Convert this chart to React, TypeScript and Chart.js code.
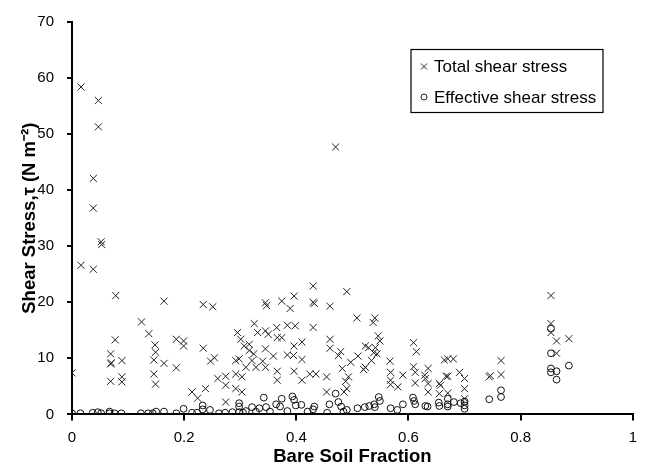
import React, { useEffect, useRef } from 'react';
import { Chart, registerables } from 'chart.js';

Chart.register(...registerables);

const FONT = "'Liberation Sans', Arial, sans-serif";

// Total shear stress (crosses)
const totalX = [
  0.000, 0.016, 0.016, 0.038, 0.038, 0.038, 0.047, 0.047, 0.052, 0.053,
  0.069, 0.069, 0.070, 0.069, 0.077, 0.078, 0.089, 0.089, 0.089, 0.124,
  0.137, 0.146, 0.146, 0.148, 0.149, 0.149, 0.164, 0.164, 0.186, 0.186,
  0.199, 0.199, 0.214, 0.224, 0.234, 0.234, 0.238, 0.247, 0.251, 0.254,
  0.260, 0.274, 0.274, 0.274, 0.292, 0.292, 0.292, 0.295, 0.298, 0.301,
  0.303, 0.303, 0.307, 0.310, 0.316, 0.316, 0.321, 0.324, 0.325, 0.331,
  0.328, 0.340, 0.345, 0.347, 0.345, 0.345, 0.345, 0.350, 0.359, 0.365,
  0.366, 0.366, 0.366, 0.374, 0.374, 0.384, 0.384, 0.389, 0.395, 0.396,
  0.396, 0.396, 0.398, 0.410, 0.410, 0.410, 0.424, 0.430, 0.430, 0.432,
  0.430, 0.435, 0.454, 0.454, 0.460, 0.460, 0.460, 0.470, 0.475, 0.479,
  0.482, 0.485, 0.488, 0.490, 0.490, 0.493, 0.497, 0.508, 0.510, 0.520,
  0.523, 0.523, 0.529, 0.534, 0.537, 0.538, 0.540, 0.541, 0.544, 0.546,
  0.549, 0.567, 0.568, 0.568, 0.568, 0.581, 0.590, 0.609, 0.609, 0.612,
  0.612, 0.614, 0.629, 0.630, 0.635, 0.635, 0.635, 0.655, 0.655, 0.657,
  0.664, 0.667, 0.670, 0.670, 0.670, 0.680, 0.691, 0.700, 0.700, 0.700,
  0.744, 0.746, 0.765, 0.765, 0.854, 0.854, 0.854, 0.864, 0.864, 0.886,
];
const totalY = [
  7.4, 58.4, 26.6, 42.1, 36.8, 25.9, 56.0, 51.3, 30.8, 30.3,
  10.8, 9.0, 9.2, 5.9, 13.3, 21.2, 9.6, 6.7, 5.8, 16.5,
  14.4, 9.7, 7.2, 12.4, 11.1, 5.4, 20.2, 9.1, 13.4, 8.3,
  13.1, 12.2, 4.0, 2.9, 19.6, 11.8, 4.6, 9.5, 19.2, 10.1,
  6.4, 6.8, 5.2, 2.2, 9.6, 7.2, 4.6, 14.6, 9.9, 13.4,
  6.7, 4.0, 12.2, 8.4, 12.5, 11.4, 9.6, 10.8, 16.2, 14.6,
  8.4, 9.5, 19.9, 19.4, 14.9, 11.7, 8.4, 14.3, 10.4, 15.5,
  13.7, 7.7, 6.1, 20.2, 13.7, 15.9, 10.6, 18.9, 10.5, 21.1,
  12.2, 7.7, 15.8, 12.9, 9.8, 6.1, 7.2, 22.9, 20.0, 19.8,
  15.5, 7.2, 6.7, 4.0, 19.3, 13.4, 11.8, 47.7, 10.5, 11.2,
  8.2, 4.0, 5.9, 21.9, 4.6, 6.7, 9.3, 17.2, 10.4, 8.0,
  12.2, 8.4, 11.9, 9.6, 16.4, 11.0, 17.2, 11.9, 10.8, 14.0,
  13.1, 9.5, 7.5, 6.1, 5.3, 4.9, 7.0, 12.8, 8.5, 7.5,
  5.6, 11.2, 7.0, 6.4, 8.2, 5.5, 4.0, 5.5, 3.7, 5.2,
  9.7, 6.8, 9.9, 6.8, 3.8, 9.9, 7.5, 6.4, 4.6, 2.8,
  6.7, 6.9, 9.6, 7.1, 21.2, 16.2, 14.6, 13.1, 10.9, 13.5,
];

// Effective shear stress (circles)
const effX = [
  0.000, 0.015, 0.037, 0.046, 0.052, 0.067, 0.067, 0.076, 0.088, 0.123,
  0.136, 0.144, 0.150, 0.164, 0.186, 0.199, 0.214, 0.223, 0.233, 0.233,
  0.246, 0.262, 0.273, 0.286, 0.298, 0.298, 0.298, 0.305, 0.310, 0.321,
  0.328, 0.334, 0.342, 0.346, 0.353, 0.364, 0.371, 0.374, 0.384, 0.393,
  0.396, 0.399, 0.409, 0.420, 0.430, 0.432, 0.455, 0.459, 0.470, 0.475,
  0.480, 0.484, 0.490, 0.509, 0.522, 0.530, 0.539, 0.540, 0.547, 0.549,
  0.568, 0.580, 0.590, 0.608, 0.610, 0.612, 0.630, 0.634, 0.654, 0.655,
  0.670, 0.670, 0.670, 0.681, 0.693, 0.700, 0.700, 0.700, 0.744, 0.765,
  0.765, 0.854, 0.854, 0.854, 0.854, 0.864, 0.864, 0.886,
];
const effY = [
  0.2, 0.2, 0.3, 0.4, 0.2, 0.5, 0.2, 0.2, 0.2, 0.2,
  0.2, 0.2, 0.5, 0.5, 0.2, 1.0, 0.3, 0.3, 1.6, 0.9,
  0.8, 0.2, 0.3, 0.4, 2.0, 1.4, 0.4, 0.3, 0.6, 1.3,
  0.5, 1.1, 3.0, 1.3, 0.5, 1.8, 1.4, 2.8, 0.6, 3.2,
  2.6, 1.6, 1.7, 0.5, 0.9, 1.4, 0.3, 1.8, 3.7, 2.2,
  1.4, 0.5, 0.8, 1.1, 1.3, 1.5, 1.8, 1.3, 3.1, 2.4,
  1.1, 0.8, 1.8, 3.0, 2.4, 1.8, 1.5, 1.4, 2.1, 1.5,
  2.8, 1.8, 1.4, 2.2, 2.0, 2.3, 1.6, 1.0, 2.7, 4.3,
  3.1, 15.3, 10.9, 8.2, 7.5, 7.7, 6.2, 8.7,
];

const seriesLabels = ['Total shear stress', 'Effective shear stress'];
const xAxisTitle = 'Bare Soil Fraction';
const yAxisTitle = 'Shear Stress,\u03C4 (N m\u207B\u00B2)';
const xRange = [0, 1];
const yRange = [0, 70];
const xStep = 0.2;
const yStep = 10;

const boxLegend = {
  id: 'boxLegend',
  afterDraw(chart: any) {
    const { ctx, chartArea } = chart;
    const left = chartArea.left + 339;
    const top = chartArea.top + 27.5;
    const w = 192;
    const h = 63;
    ctx.save();
    ctx.strokeStyle = '#000';
    ctx.lineWidth = 1.2;
    ctx.fillStyle = '#fff';
    ctx.fillRect(left, top, w, h);
    ctx.strokeRect(left, top, w, h);
    const rows = [top + 17, top + 47.5];
    chart.data.datasets.forEach((ds: any, i: number) => {
      const cy = rows[i];
      const cx = left + 13;
      ctx.strokeStyle = '#222';
      ctx.lineWidth = 1;
      ctx.beginPath();
      if (i === 0) {
        ctx.moveTo(cx - 3, cy - 3);
        ctx.lineTo(cx + 3, cy + 3);
        ctx.moveTo(cx + 3, cy - 3);
        ctx.lineTo(cx - 3, cy + 3);
      } else {
        ctx.arc(cx, cy, 3, 0, Math.PI * 2);
      }
      ctx.stroke();
      ctx.fillStyle = '#000';
      ctx.font = `17px ${FONT}`;
      ctx.textBaseline = 'middle';
      ctx.textAlign = 'left';
      ctx.fillText(ds.label, left + 23, cy + 1);
    });
    ctx.restore();
  },
};

export default function App() {
  const ref = useRef<HTMLCanvasElement>(null);
  useEffect(() => {
    const chart = new Chart(ref.current as HTMLCanvasElement, {
      type: 'scatter',
      data: {
        datasets: [
          {
            label: seriesLabels[0],
            data: totalX.map((x, i) => ({ x, y: totalY[i] })),
            pointStyle: 'crossRot',
            pointRadius: 5,
            pointBorderWidth: 1,
            borderColor: '#222',
            backgroundColor: 'rgba(0,0,0,0)',
          },
          {
            label: seriesLabels[1],
            data: effX.map((x, i) => ({ x, y: effY[i] })),
            pointStyle: 'circle',
            pointRadius: 3.4,
            pointBorderWidth: 1,
            borderColor: '#111',
            backgroundColor: 'rgba(0,0,0,0)',
          },
        ],
      },
      options: {
        animation: false,
        responsive: false,
        layout: { padding: { top: 17, right: 10, left: 0, bottom: 0 } },
        plugins: { legend: { display: false }, tooltip: { enabled: false } },
        scales: {
          x: {
            type: 'linear',
            position: 'bottom',
            min: xRange[0],
            max: xRange[1],
            ticks: {
              stepSize: xStep,
              color: '#000',
              font: { family: FONT, size: 15 },
              padding: 8,
              maxRotation: 0,
              callback: (v: any) => String(Number(Number(v).toFixed(2))),
            },
            grid: { display: true, drawOnChartArea: false, drawTicks: true, tickLength: 6, color: '#000', lineWidth: 2 },
            border: { display: true, color: '#000', width: 2 },
            title: { display: true, text: xAxisTitle, color: '#000', font: { family: FONT, size: 18.5, weight: 'bold' }, padding: 0 },
            afterFit: (s: any) => { s.height = 53.6; },
          },
          y: {
            type: 'linear',
            min: yRange[0],
            max: yRange[1],
            ticks: { stepSize: yStep, color: '#000', font: { family: FONT, size: 15 }, padding: 13 },
            grid: { display: true, drawOnChartArea: false, drawTicks: true, tickLength: 5, color: '#000', lineWidth: 2 },
            border: { display: true, color: '#000', width: 2 },
            title: { display: true, text: yAxisTitle, color: '#000', font: { family: FONT, size: 18.5, weight: 'bold' }, padding: { top: 19, bottom: 0 } },
            afterFit: (s: any) => { s.width = 72; },
          },
        },
      } as any,
      plugins: [boxLegend],
    });
    return () => chart.destroy();
  }, []);
  return (
    <canvas
      ref={ref}
      width={645}
      height={468}
      style={{ position: 'fixed', left: 0, top: 0, width: 645, height: 468, display: 'block', background: '#fff' }}
    />
  );
}
